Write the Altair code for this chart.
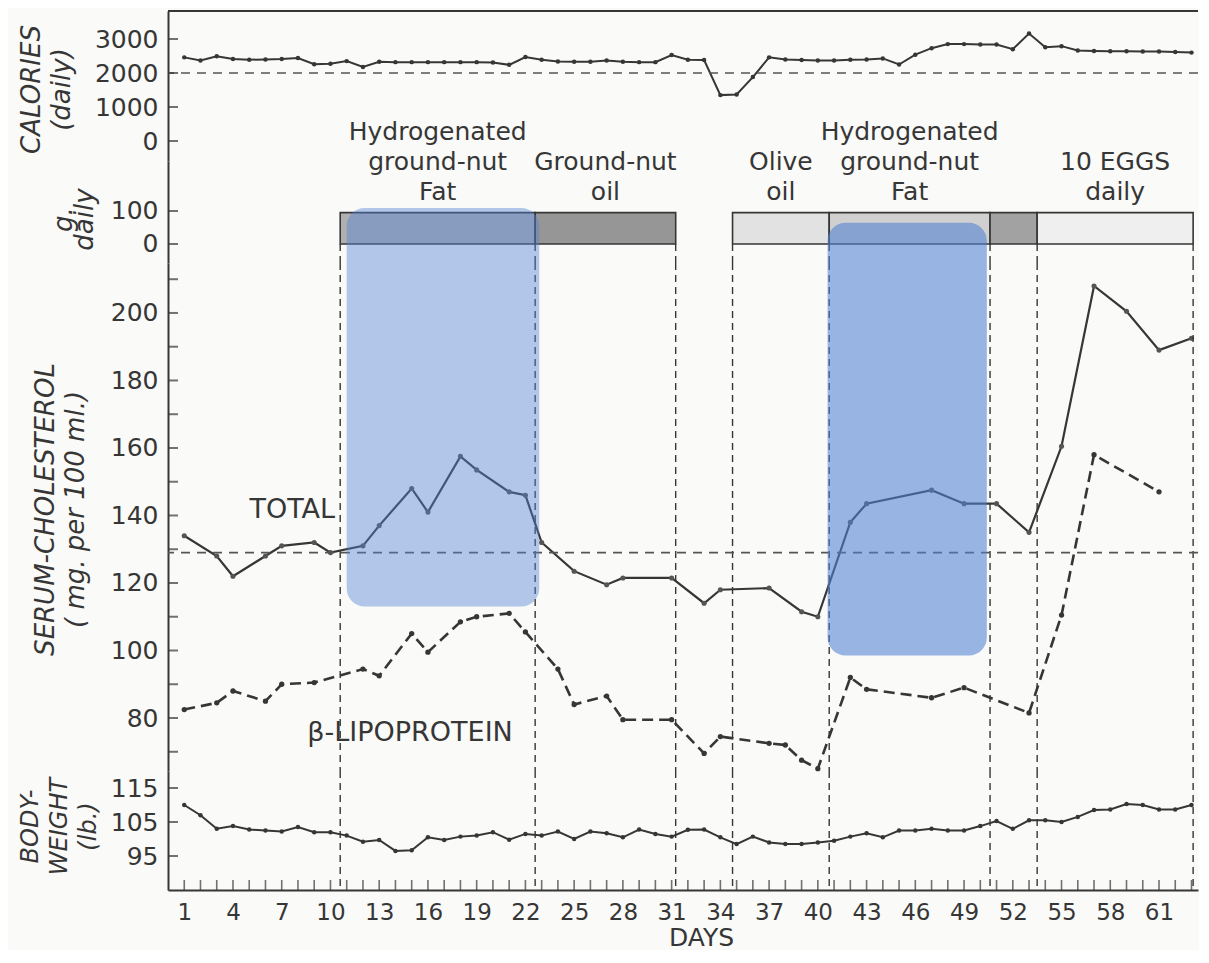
import altair as alt
import pandas as pd

# ---------------- data ----------------
days = list(range(1, 64))
calories = [2460, 2370, 2490, 2410, 2390, 2400, 2410, 2440, 2260, 2270,
            2350, 2180, 2330, 2320, 2320, 2320, 2320, 2320, 2320, 2310,
            2240, 2470, 2390, 2340, 2330, 2330, 2370, 2330, 2320, 2320,
            2530, 2390, 2380, 1350, 1370, 1880, 2460, 2400, 2380, 2370,
            2370, 2390, 2400, 2430, 2250, 2540, 2730, 2850, 2850, 2840,
            2840, 2700, 3160, 2760, 2790, 2660, 2650, 2640, 2640, 2630,
            2630, 2620, 2600]
body_weight = [110, 107, 103, 103.8, 102.8, 102.5, 102.2, 103.5, 102, 102,
               101, 99.2, 99.7, 96.5, 96.7, 100.5, 99.7, 100.7, 101, 102,
               99.8, 101.5, 101, 102.2, 100, 102.2, 101.7, 100.5, 102.8, 101.5,
               100.7, 102.7, 102.8, 100.5, 98.5, 100.7, 99, 98.5, 98.5, 99,
               99.5, 100.7, 101.7, 100.5, 102.5, 102.5, 103, 102.5, 102.5, 103.8,
               105.3, 103, 105.5, 105.5, 105, 106.5, 108.5, 108.7, 110.3, 110,
               108.7, 108.7, 110]
chol_days = [1, 3, 4, 6, 7, 9, 10, 12, 13, 15, 16, 18, 19, 21, 22, 23,
             25, 27, 28, 31, 33, 34, 37, 39, 40, 42, 43, 47, 49, 51, 53,
             55, 57, 59, 61, 63]
chol_total = [134, 128, 122, 128, 131, 132, 129, 131, 137, 148, 141, 157.5, 153.5, 147, 146, 132,
              123.5, 119.5, 121.5, 121.5, 114, 118, 118.5, 111.5, 110, 138, 143.5, 147.5, 143.5, 143.5, 135,
              160.5, 208, 200.5, 189, 192.5]
beta_days = [1, 3, 4, 6, 7, 9, 12, 13, 15, 16, 18, 19, 21, 22, 24, 25, 27, 28, 31, 33,
             34, 37, 38, 39, 40, 42, 43, 47, 49, 53, 55, 57, 61]
beta_lipo = [82.5, 84.5, 88, 85, 90, 90.5, 94.5, 92.5, 105, 99.5, 108.5, 110, 111, 105.5, 94.5, 84,
             86.5, 79.5, 79.5, 69.5, 74.5, 72.5, 72, 67.5, 65, 92, 88.5, 86, 89, 81.5, 110.5, 158, 147]

fat_start = [10.6, 22.6, 34.75, 40.7, 50.6, 53.5]
fat_end = [22.6, 31.25, 40.7, 50.6, 53.5, 63.1]
fat_grams = [95, 95, 95, 95, 95, 95]
fat_label = ["Hydrogenated\nground-nut\nFat", "Ground-nut\noil", "Olive\noil",
             "Hydrogenated\nground-nut\nFat", "", "10 EGGS\ndaily"]

hl_start = [11.0, 40.6]
hl_end = [22.85, 50.4]
hl_top_g = [109, 64]
hl_bottom_mg = [113, 98.5]
hl_name = ["A", "B"]

series_names = ["TOTAL", "β-LIPOPROTEIN"]
series_label_day = [7.65, 14.9]
series_label_mg = [139.3, 73.2]

x_label_days = list(range(1, 62, 3))
cal_ticks = [0, 1000, 2000, 3000]
fat_ticks = [0, 100]
chol_labels = list(range(80, 201, 20))
chol_ticks = list(range(70, 211, 10))
weight_ticks = [95, 105, 115]
cal_reference = 2000
chol_reference = 129

# ---------------- styling / layout ----------------
FONT = "DejaVu Sans"
INK = "#363636"
HL = "#5082d2"
W = 1030
H1, H2, H3, H4 = 150, 102, 508, 119
xs = alt.Scale(domain=[0, 63.4], nice=False, zero=False)
FAT_DOMAIN = [-57.6, 251.5]
DASH_V = [7, 5]
LABEL_LINE_PX = 30       # line spacing of the diet labels
LABEL_BASE_PX = 39       # baseline of last label line, px from top of fat panel

# ---------------- tables ----------------
cal_df = pd.DataFrame({"day": days, "cal": calories})
wt_df = pd.DataFrame({"day": days, "wt": body_weight})
tot_df = pd.DataFrame({"day": chol_days, "mg": chol_total})
beta_df = pd.DataFrame({"day": beta_days, "mg": beta_lipo})
fat_df = pd.DataFrame({"start": fat_start, "end": fat_end, "g": fat_grams,
                       "period": list(range(len(fat_start)))})
fat_df["base"] = 0
bound_days = sorted(set(fat_start + fat_end))
bound_df = pd.DataFrame({"day": bound_days})
bound_fat_df = pd.DataFrame({"day": bound_days, "g": [0] * len(bound_days)})
hl_df = pd.DataFrame({"s": hl_start, "e": hl_end, "g": hl_top_g, "mg": hl_bottom_mg, "box": hl_name})
lab_df = pd.DataFrame({"day": series_label_day, "mg": series_label_mg, "t": series_names})

# one row per label line, ranked from the bottom line upward
g_per_px = (FAT_DOMAIN[1] - FAT_DOMAIN[0]) / H2
rows = []
for s, e, lab in zip(fat_start, fat_end, fat_label):
    lines = lab.split("\n") if lab else []
    for k, line in enumerate(lines):
        rank = len(lines) - 1 - k
        rows.append({"mid": (s + e) / 2, "line": line,
                     "g": FAT_DOMAIN[1] - (LABEL_BASE_PX - rank * LABEL_LINE_PX) * g_per_px})
fat_lab_df = pd.DataFrame(rows)


def title_axis(values, title, tx, ty, fs=26, lh=30):
    return alt.Axis(values=values, format="d", ticks=False, grid=False, labelPadding=10,
                    title=title, titleX=tx, titleY=ty, titleAngle=270, titleAlign="center",
                    titleBaseline="top", titleFontStyle="italic", titleFontWeight="normal",
                    titleFontSize=fs, titleLineHeight=lh, titleLimit=400)


def y_ticks(vals, field, scale, axis):
    return alt.Chart(pd.DataFrame({field: vals})).mark_tick(
        orient="horizontal", color=INK, thickness=2, size=10
    ).encode(y=alt.Y(f"{field}:Q", scale=scale, axis=axis), x=alt.value(5))


# ---- panel 1: calories ----
ycal = alt.Scale(domain=[-588, 3824], nice=False, zero=False)
cal_axis = title_axis(cal_ticks, ["CALORIES", "(daily)"], -150, 78)
cal_line = alt.Chart(cal_df).mark_line(
    color=INK, strokeWidth=2, point=alt.OverlayMarkDef(filled=True, size=20, color=INK)
).encode(
    x=alt.X("day:Q", scale=xs, axis=None),
    y=alt.Y("cal:Q", scale=ycal, axis=cal_axis),
)
cal_ref = alt.Chart(pd.DataFrame({"cal": [cal_reference]})).mark_rule(
    color="#555555", strokeWidth=1.6, strokeDash=[9, 7]
).encode(y=alt.Y("cal:Q", scale=ycal, axis=cal_axis))
top_rule = alt.Chart(pd.DataFrame({"day": [0]})).mark_rule(color=INK, strokeWidth=2).encode(
    x=alt.value(0), x2=alt.value(W), y=alt.value(0)
)
p1 = alt.layer(cal_line, top_rule, cal_ref, y_ticks(cal_ticks, "cal", ycal, cal_axis)).properties(width=W, height=H1)

# ---- panel 2: fat intake ----
yfat = alt.Scale(domain=FAT_DOMAIN, nice=False, zero=False)
fat_axis = title_axis(fat_ticks, ["g.", "daily"], -118, 58, fs=26, lh=21)
fat_bars = alt.Chart(fat_df).mark_rect(stroke=INK, strokeWidth=1.6).encode(
    x=alt.X("start:Q", scale=xs, axis=None),
    x2="end:Q",
    y=alt.Y("g:Q", scale=yfat, axis=fat_axis),
    y2="base:Q",
    fill=alt.Fill("period:O", legend=None,
                  scale=alt.Scale(range=["#b0b0b0", "#969696", "#e2e2e2", "#d0d0d0", "#a2a2a2", "#efefef"])),
)
fat_text = alt.Chart(fat_lab_df).mark_text(
    baseline="alphabetic", align="center", font=FONT, fontSize=25, color=INK
).encode(x=alt.X("mid:Q", scale=xs, axis=None), y=alt.Y("g:Q", scale=yfat, axis=fat_axis), text="line:N")
fat_v = alt.Chart(bound_fat_df).mark_rule(color=INK, strokeWidth=1.4, strokeDash=DASH_V).encode(
    x=alt.X("day:Q", scale=xs, axis=None), y=alt.Y("g:Q", scale=yfat, axis=fat_axis), y2=alt.value(H2)
)
hl_top = alt.Chart(hl_df).mark_rect(color=HL, cornerRadiusTopLeft=18, cornerRadiusTopRight=18).encode(
    x=alt.X("s:Q", scale=xs, axis=None), x2="e:Q",
    y=alt.Y("g:Q", scale=yfat, axis=fat_axis), y2=alt.value(H2),
    opacity=alt.Opacity("box:N", legend=None, scale=alt.Scale(domain=hl_name, range=[0.43, 0.58])),
)
p2 = alt.layer(fat_bars, y_ticks(fat_ticks, "g", yfat, fat_axis), fat_v, fat_text, hl_top).properties(width=W, height=H2)

# ---- panel 3: serum cholesterol ----
ych = alt.Scale(domain=[64.3, 214.8], nice=False, zero=False)
chol_axis = title_axis(chol_labels, ["SERUM-CHOLESTEROL", "( mg. per 100 ml.)"], -136, 246)
tot_line = alt.Chart(tot_df).mark_line(
    color=INK, strokeWidth=2.2, point=alt.OverlayMarkDef(filled=True, size=26, color="#555555")
).encode(
    x=alt.X("day:Q", scale=xs, axis=None),
    y=alt.Y("mg:Q", scale=ych, axis=chol_axis),
)
beta_line = alt.Chart(beta_df).mark_line(
    color=INK, strokeWidth=2.6, strokeDash=[11, 6],
    point=alt.OverlayMarkDef(filled=True, size=28, color=INK)
).encode(x=alt.X("day:Q", scale=xs, axis=None), y=alt.Y("mg:Q", scale=ych, axis=chol_axis))
chol_ref = alt.Chart(pd.DataFrame({"mg": [chol_reference]})).mark_rule(
    color="#555555", strokeWidth=1.6, strokeDash=[9, 7]
).encode(y=alt.Y("mg:Q", scale=ych, axis=chol_axis))
chol_v = alt.Chart(bound_df).mark_rule(color=INK, strokeWidth=1.4, strokeDash=DASH_V).encode(
    x=alt.X("day:Q", scale=xs, axis=None)
)
lbls = alt.Chart(lab_df).mark_text(
    font=FONT, fontSize=27, color=INK, align="center", baseline="alphabetic"
).encode(x=alt.X("day:Q", scale=xs, axis=None), y=alt.Y("mg:Q", scale=ych, axis=chol_axis), text="t:N")
hl_bot = alt.Chart(hl_df).mark_rect(color=HL, cornerRadiusBottomLeft=18, cornerRadiusBottomRight=18).encode(
    x=alt.X("s:Q", scale=xs, axis=None), x2="e:Q",
    y=alt.Y("mg:Q", scale=ych, axis=chol_axis), y2=alt.value(0),
    opacity=alt.Opacity("box:N", legend=None, scale=alt.Scale(domain=hl_name, range=[0.43, 0.58])),
)
p3 = alt.layer(tot_line, chol_v, chol_ref, y_ticks(chol_ticks, "mg", ych, chol_axis), beta_line,
               lbls, hl_bot).properties(width=W, height=H3)

# ---- panel 4: body weight ----
ywt = alt.Scale(domain=[85, 120], nice=False, zero=False)
wt_axis = title_axis(weight_ticks, ["BODY-", "WEIGHT", "(lb.)"], -150, 55, fs=24, lh=29)
x_axis = alt.Axis(values=x_label_days, format="d", ticks=False, grid=False, labelPadding=11,
                  labelFontSize=23, title="DAYS", titleX=533, titleFontSize=25,
                  titleFontWeight="normal", titlePadding=1)
wt_line = alt.Chart(wt_df).mark_line(
    color=INK, strokeWidth=2, point=alt.OverlayMarkDef(filled=True, size=20, color=INK)
).encode(
    x=alt.X("day:Q", scale=xs, axis=x_axis),
    y=alt.Y("wt:Q", scale=ywt, axis=wt_axis),
)
wt_v = alt.Chart(bound_df).mark_rule(color=INK, strokeWidth=1.4, strokeDash=DASH_V).encode(
    x=alt.X("day:Q", scale=xs, axis=x_axis)
)
x_ticks = alt.Chart(pd.DataFrame({"day": days})).mark_tick(
    orient="vertical", color=INK, thickness=1.6, size=10
).encode(x=alt.X("day:Q", scale=xs, axis=x_axis), y=alt.value(H4 - 5))
p4 = alt.layer(wt_line, wt_v, x_ticks, y_ticks(weight_ticks, "wt", ywt, wt_axis)).properties(width=W, height=H4)

chart = alt.vconcat(p1, p2, p3, p4, spacing=0, bounds="flush").properties(
    padding={"left": 10, "top": 2, "right": 0, "bottom": 0},
    background="#fafaf8",
).configure_view(stroke=None).configure_axis(
    labelFont=FONT, labelFontSize=25, labelColor=INK, titleFont=FONT, titleColor=INK,
    domainColor=INK, domainWidth=2, grid=False
)

chart.save("out.html", embed_options={"renderer": "svg", "actions": False})
